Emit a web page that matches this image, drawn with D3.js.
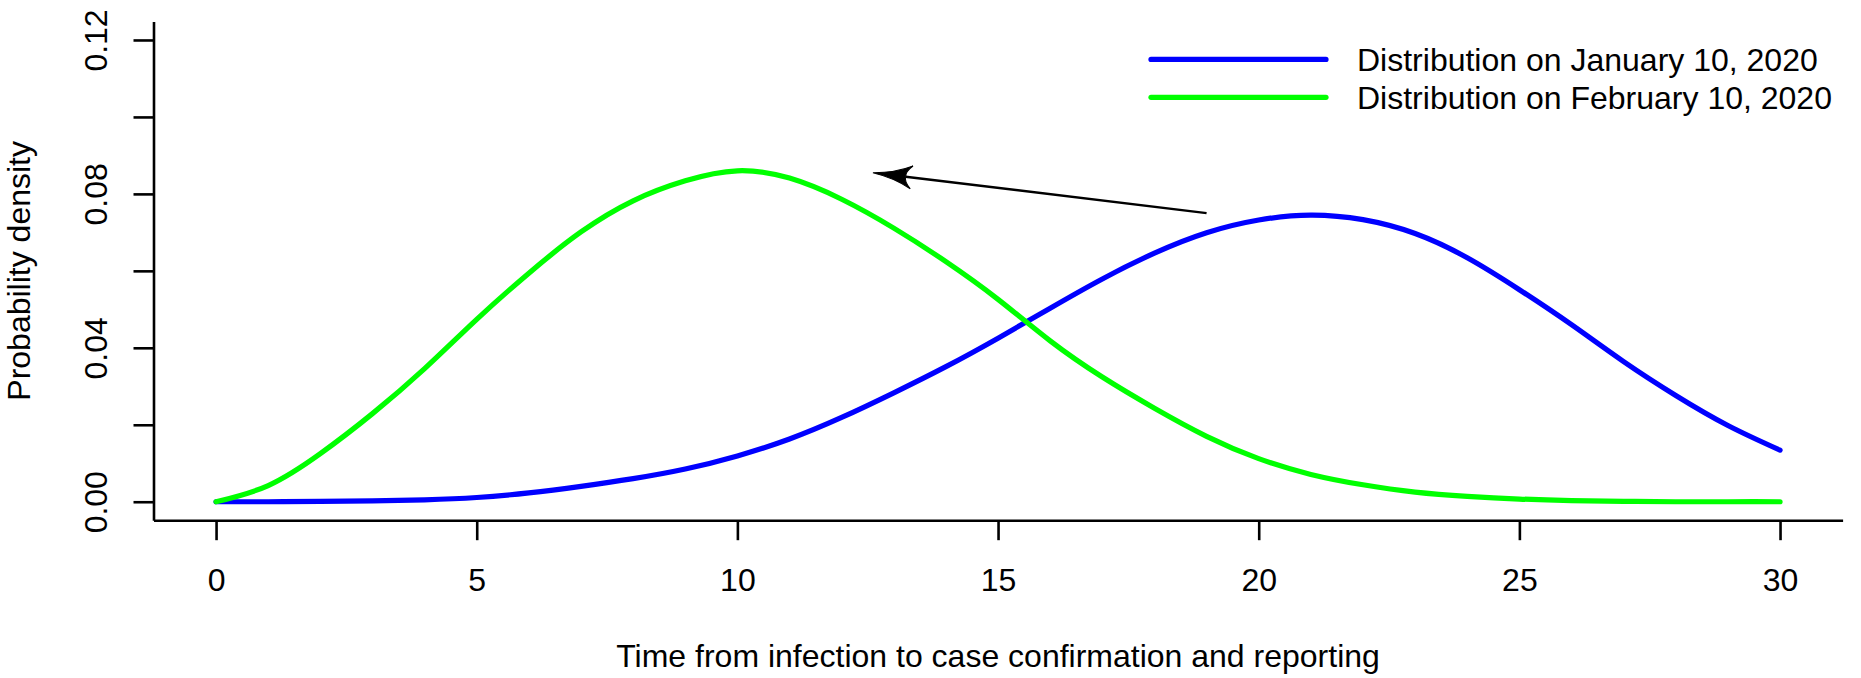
<!DOCTYPE html>
<html><head><meta charset="utf-8">
<script src="https://cdn.jsdelivr.net/npm/d3@7"></script>
<style>
html,body{margin:0;padding:0;background:#fff;}
svg{display:block;}
text{font-family:"Liberation Sans",Arial,Helvetica,sans-serif;fill:#000;}
</style>
</head><body>
<svg id="chart" width="1861" height="678"></svg>
<script>
// ---- data ----
const days = [0,1,2,3,4,5,6,7,8,9,10,11,12,13,14,15,16,17,18,19,20,21,22,23,24,25,26,27,28,29,30];
const janDensity = [0,0,0.0001,0.0002,0.0005,0.0011,0.0023,0.0040,0.0060,0.0085,0.0119,0.0163,0.0219,0.0283,0.0351,0.0425,0.0503,0.0579,0.0646,0.0699,0.0732,0.0745,0.0733,0.0697,0.0634,0.0551,0.0460,0.0364,0.0276,0.0198,0.0134];
const febDensity = [0,0.0042,0.0125,0.0229,0.0346,0.0474,0.0594,0.0701,0.0782,0.0834,0.0860,0.0841,0.0786,0.0711,0.0624,0.0526,0.0418,0.0324,0.0243,0.0170,0.0112,0.0071,0.0044,0.0025,0.0014,0.0007,0.0003,0.0001,0,0,0];
const xTicks = [0,5,10,15,20,25,30];
const yTicks = [0,0.02,0.04,0.06,0.08,0.10,0.12];
const yTickLabels = [0,0.04,0.08,0.12];
const seriesNames = ["Distribution on January 10, 2020","Distribution on February 10, 2020"];
const seriesColors = ["#0000FF","#00FF00"];
const arrowFrom = [19, 0.075];
const arrowTo = [12.6, 0.0855];
const xLabel = "Time from infection to case confirmation and reporting";
const yLabel = "Probability density";

// ---- layout ----
const svg = d3.select("#chart");
const FS = 32;
const x = d3.scaleLinear().domain([-1.2, 31.2]).range([153.5, 1842.6]);
const y = d3.scaleLinear().domain([-0.0048, 0.1248]).range([520.2, 21.5]);
const axW = 2.6;

// bottom axis
const gx = svg.append("g").attr("transform", `translate(0,${y.range()[0]})`)
  .call(d3.axisBottom(x).tickValues(xTicks).tickSize(20).tickSizeOuter(0).tickFormat(d3.format("d")));
gx.selectAll("path.domain").attr("stroke","#000").attr("stroke-width",axW);
gx.selectAll(".tick line").attr("stroke","#000").attr("stroke-width",axW);
gx.selectAll(".tick text").attr("y",71).attr("dy",null).attr("font-size",FS)
  .attr("font-family",'"Liberation Sans",Arial,sans-serif').attr("fill","#000");

// left axis
const gy = svg.append("g").attr("transform", `translate(${x.range()[0]},0)`)
  .call(d3.axisLeft(y).tickValues(yTicks).tickSize(20).tickSizeOuter(0)
    .tickFormat(d => yTickLabels.some(v => Math.abs(v-d)<1e-9) ? d3.format(".2f")(d) : ""));
gy.selectAll("path.domain").attr("stroke","#000").attr("stroke-width",axW);
gy.selectAll(".tick line").attr("stroke","#000").attr("stroke-width",axW);
gy.selectAll(".tick text")
  .attr("x",0).attr("y",-46.5).attr("dy",null).attr("dx",null)
  .attr("transform","rotate(-90)").attr("text-anchor","middle")
  .attr("font-size",FS).attr("font-family",'"Liberation Sans",Arial,sans-serif').attr("fill","#000");

// axis titles
svg.append("text").attr("x",(x.range()[0]+x.range()[1])/2).attr("y",667)
  .attr("text-anchor","middle").attr("font-size",FS).text(xLabel);
svg.append("text").attr("transform",`translate(30,${(y.range()[0]+y.range()[1])/2}) rotate(-90)`)
  .attr("text-anchor","middle").attr("font-size",FS).text(yLabel);

// curves
const line = d3.line().x((d,i)=>x(days[i])).y(d=>y(d)).curve(d3.curveNatural);
[janDensity, febDensity].forEach((s,k)=>{
  svg.append("path").datum(s).attr("d",line).attr("fill","none")
    .attr("stroke",seriesColors[k]).attr("stroke-width",5.2)
    .attr("stroke-linejoin","round").attr("stroke-linecap","round");
});

// arrow
const tx = x(arrowFrom[0]), ty = y(arrowFrom[1]);
const hx = x(arrowTo[0]), hy = y(arrowTo[1]);
const ang = Math.atan2(ty-hy, tx-hx);
const notch = 33;
svg.append("line").attr("x1",tx).attr("y1",ty)
  .attr("x2",hx+notch*Math.cos(ang)).attr("y2",hy+notch*Math.sin(ang))
  .attr("stroke","#000").attr("stroke-width",2.4);
svg.append("path")
  .attr("d","M0,0 Q22,-2.5 39,-11.5 Q32,-5 33,0 Q32,5 39,11.5 Q22,2.5 0,0 Z")
  .attr("transform",`translate(${hx},${hy}) rotate(${ang*180/Math.PI})`)
  .attr("fill","#000").attr("stroke","#000").attr("stroke-width",1);

// legend
const legY = [59.4, 97.3];
seriesNames.forEach((name,k)=>{
  svg.append("line").attr("x1",1151).attr("x2",1326).attr("y1",legY[k]).attr("y2",legY[k])
    .attr("stroke",seriesColors[k]).attr("stroke-width",5.2).attr("stroke-linecap","round");
  svg.append("text").attr("x",1357).attr("y",legY[k]+11.5).attr("font-size",FS).text(name);
});
</script>
</body></html>
